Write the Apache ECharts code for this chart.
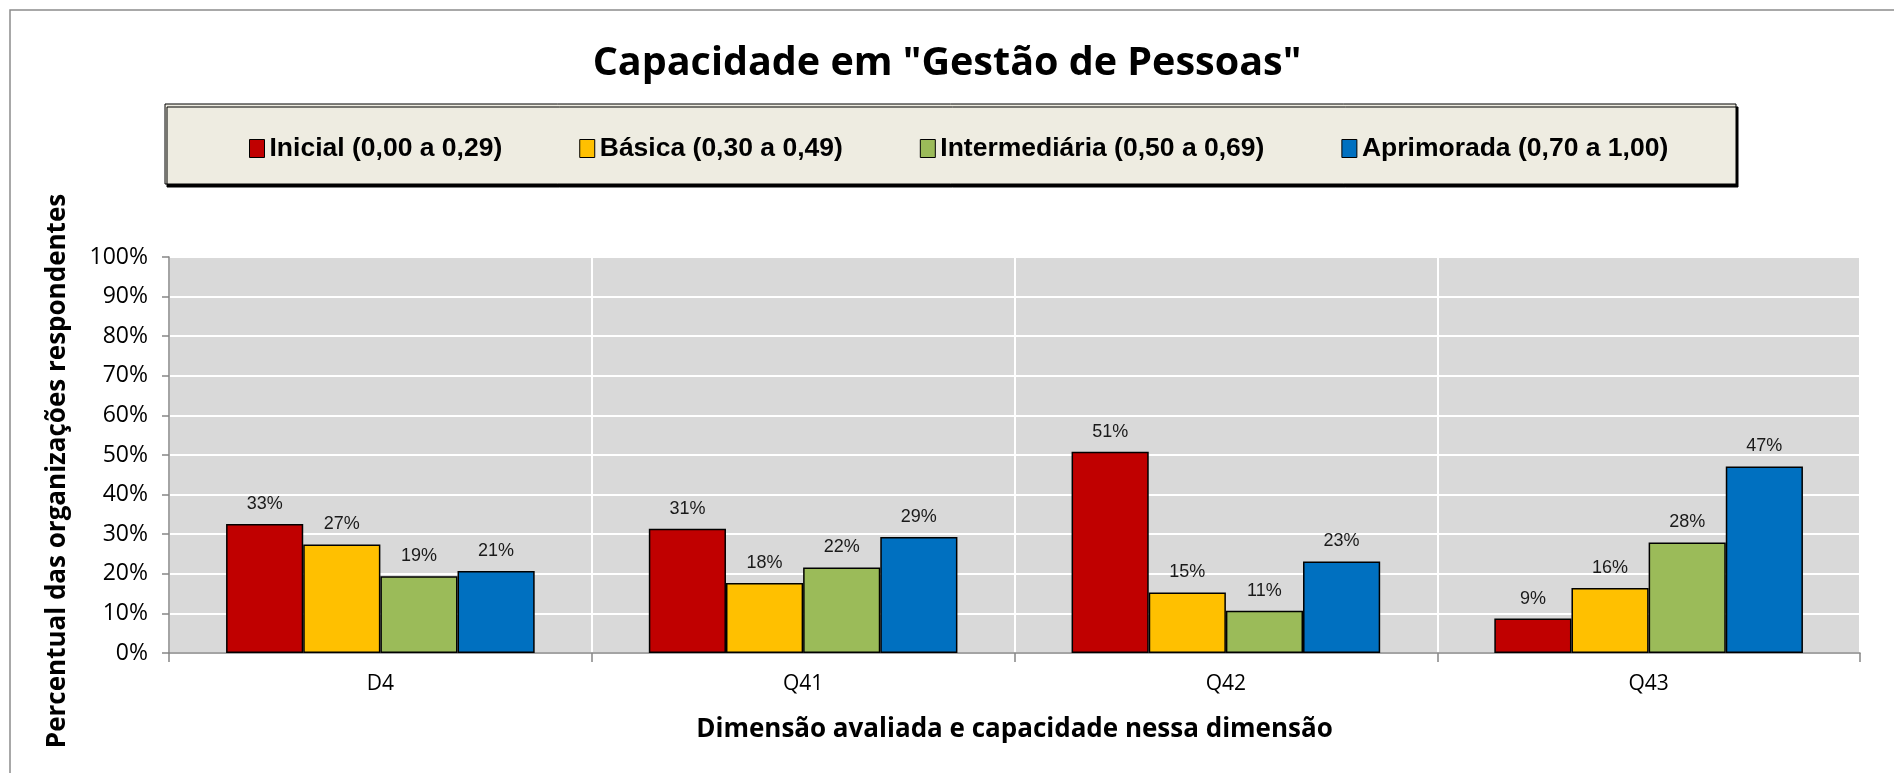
<!DOCTYPE html>
<html><head><meta charset="utf-8">
<script src="https://cdn.jsdelivr.net/npm/echarts@6/dist/echarts.min.js"></script>
<style>html,body{margin:0;padding:0;background:#fff}#c{width:1894px;height:773px}</style>
</head><body><div id="c"></div>
<script>
const categories = ['D4', 'Q41', 'Q42', 'Q43'];
const seriesNames = ['Inicial (0,00 a 0,29)', 'Básica (0,30 a 0,49)', 'Intermediária (0,50 a 0,69)', 'Aprimorada (0,70 a 1,00)'];
const inicial = [0.326, 0.314, 0.508, 0.087];
const basica = [0.274, 0.177, 0.153, 0.164];
const intermediaria = [0.194, 0.216, 0.107, 0.279];
const aprimorada = [0.207, 0.293, 0.231, 0.471];
const titleText = 'Capacidade em "Gestão de Pessoas"';
const xName = 'Dimensão avaliada e capacidade nessa dimensão';
const yName = 'Percentual das organizações respondentes';

const colors = ['#C00000', '#FFC000', '#9BBB59', '#0070C0'];
const values = [inicial, basica, intermediaria, aprimorada];

const chart = echarts.init(document.getElementById('c'), null, {renderer: 'canvas'});
const bodyFont = '"Open Sans", "Liberation Sans", sans-serif';
const narrowFont = '"Liberation Sans Narrow", "Liberation Sans", sans-serif';

chart.setOption({
  animation: false,
  backgroundColor: '#ffffff',
  title: {
    text: titleText,
    left: 'center',
    top: 39,
    textStyle: {fontFamily: bodyFont, fontWeight: 'bold', fontSize: 39.5, color: '#000'}
  },
  graphic: [
    {type: 'rect', z: -10, shape: {x: 10, y: 10, width: 2000, height: 1000},
     style: {fill: 'none', stroke: '#8c8c8c', lineWidth: 1.5}},
    {type: 'rect', z: 0, shape: {x: 165, y: 104, width: 1571, height: 80},
     style: {fill: '#EEECE1', stroke: '#000', lineWidth: 1, shadowColor: '#000', shadowOffsetX: 2, shadowOffsetY: 3, shadowBlur: 0}}
  ],
  legend: {
    z: 10,
    left: 244,
    top: 130,
    icon: 'rect',
    itemWidth: 15,
    itemHeight: 18,
    itemGap: 77,
    data: seriesNames,
    textStyle: {fontFamily: narrowFont, fontWeight: 'bold', fontSize: 26.5, color: '#000', padding: [0, 0, 0, 0]},
    itemStyle: {borderColor: '#000', borderWidth: 1}
  },
  grid: {left: 169, right: 34, top: 257, bottom: 120, show: true, backgroundColor: '#D9D9D9', borderWidth: 0, containLabel: false},
  xAxis: {
    type: 'category',
    data: categories,
    name: xName,
    nameLocation: 'middle',
    nameGap: 64,
    nameTextStyle: {fontFamily: bodyFont, fontWeight: 'bold', fontSize: 26, color: '#000'},
    axisLine: {show: true, lineStyle: {color: '#868686', width: 1.5}},
    axisTick: {show: true, length: 9, lineStyle: {color: '#868686', width: 1.5}},
    axisLabel: {fontFamily: bodyFont, fontSize: 21, color: '#000', margin: 21},
    splitLine: {show: true, lineStyle: {color: '#ffffff', width: 2}}
  },
  yAxis: {
    type: 'value',
    min: 0, max: 1, interval: 0.1,
    name: yName,
    nameLocation: 'middle',
    nameGap: 98,
    nameTextStyle: {fontFamily: bodyFont, fontWeight: 'bold', fontSize: 26, color: '#000', padding: [0, 32, 0, 0]},
    axisLine: {show: true, lineStyle: {color: '#868686', width: 1.5}},
    axisTick: {show: true, length: 7, lineStyle: {color: '#868686', width: 1.5}},
    axisLabel: {fontFamily: bodyFont, fontSize: 23, color: '#000', margin: 21,
      formatter: v => Math.round(v * 100) + '%'},
    splitLine: {show: true, lineStyle: {color: '#ffffff', width: 2}}
  },
  series: seriesNames.map((n, i) => ({
    name: n,
    type: 'bar',
    data: values[i],
    barGap: '0%',
    barCategoryGap: '27%',
    itemStyle: {color: colors[i], borderColor: '#000', borderWidth: 1.5},
    label: {show: true, position: 'top', distance: 11,
      fontFamily: '"Liberation Sans", Arial, sans-serif', fontSize: 18, color: '#1a1a1a',
      formatter: p => Math.round(p.value * 100) + '%'}
  }))
});
</script></body></html>
